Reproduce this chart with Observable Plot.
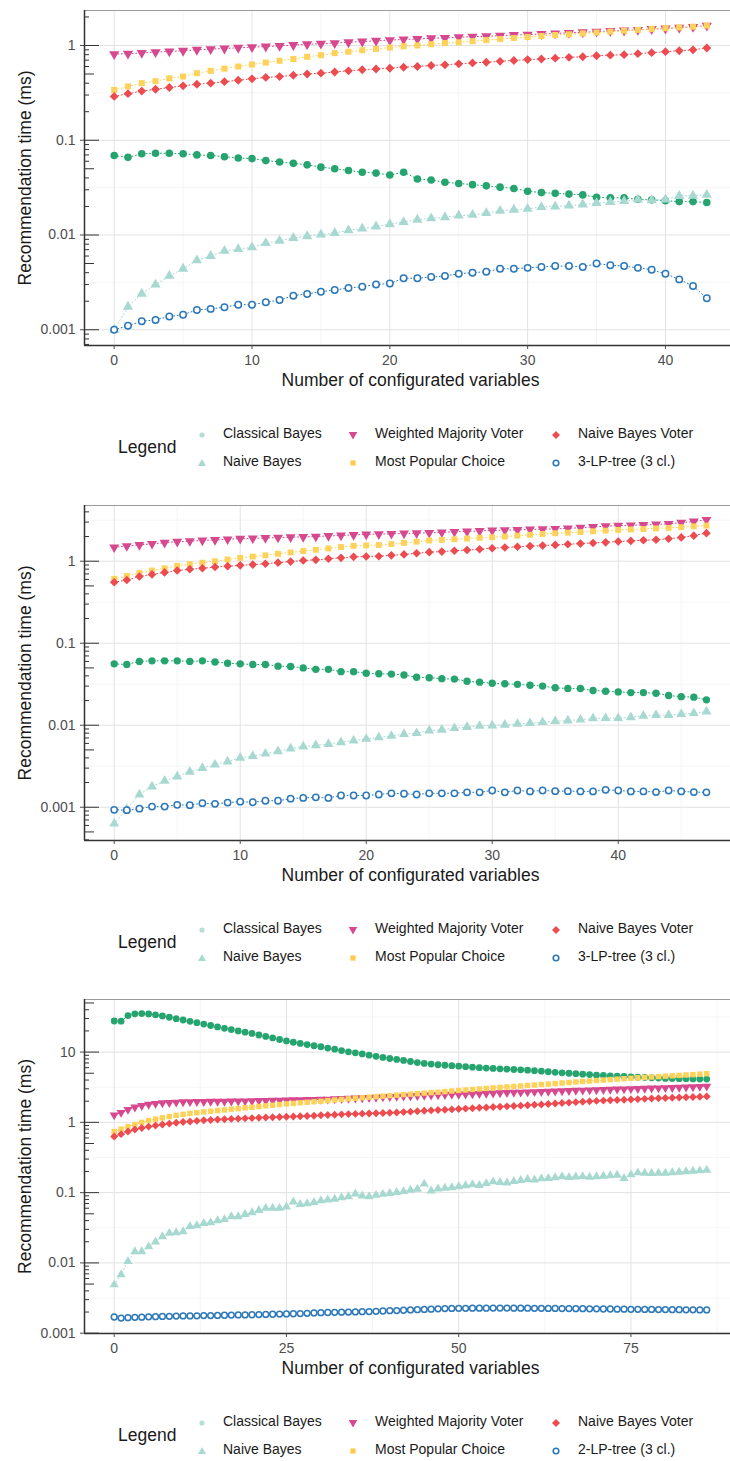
<!DOCTYPE html>
<html>
<head>
<meta charset="utf-8">
<script src="https://cdn.jsdelivr.net/npm/d3@7"></script>
<script src="https://cdn.jsdelivr.net/npm/@observablehq/plot@0.6"></script>
<style>
  body { margin: 0; background: #fff; }
  #root { position: relative; width: 730px; height: 1461px; overflow: hidden; background: #fff;
          font-family: "Liberation Sans", Arial, Helvetica, sans-serif; }
  .panel { position: absolute; left: 0; }
  .lg-title { position: absolute; font-size: 17.5px; color: #1a1a1a; line-height: 1; }
  .lg-text { position: absolute; font-size: 14px; color: #1a1a1a; line-height: 1; white-space: nowrap; }
  .lg-sym { position: absolute; width: 12px; height: 12px; }
</style>
</head>
<body>
<div id="root"></div>
<script>
// ---------------- data ----------------
const seriesNames = ["Classical Bayes", "Naive Bayes", "Weighted Majority Voter", "Most Popular Choice", "Naive Bayes Voter", "LP-tree"];
const legendLabels1 = ["Classical Bayes", "Naive Bayes", "Weighted Majority Voter", "Most Popular Choice", "Naive Bayes Voter", "3-LP-tree (3 cl.)"];
const legendLabels2 = ["Classical Bayes", "Naive Bayes", "Weighted Majority Voter", "Most Popular Choice", "Naive Bayes Voter", "3-LP-tree (3 cl.)"];
const legendLabels3 = ["Classical Bayes", "Naive Bayes", "Weighted Majority Voter", "Most Popular Choice", "Naive Bayes Voter", "2-LP-tree (3 cl.)"];
const xTitle = "Number of configurated variables";
const yTitle = "Recommendation time (ms)";

// Panel 1: x = 0..43
const cb1 = [0.069,0.066,0.072,0.073,0.073,0.072,0.070,0.069,0.067,0.065,0.064,0.061,0.059,0.057,0.055,0.052,0.050,0.048,0.046,0.045,0.043,0.046,0.039,0.038,0.036,0.035,0.034,0.033,0.032,0.031,0.029,0.028,0.0275,0.027,0.0265,0.025,0.0247,0.0247,0.0238,0.0235,0.023,0.0225,0.0225,0.022];
const nb1 = [0.001,0.00175,0.0024,0.003,0.0037,0.0044,0.0054,0.006,0.0068,0.0071,0.0074,0.0082,0.0087,0.0093,0.0097,0.0101,0.0105,0.0112,0.0117,0.0123,0.013,0.0137,0.0145,0.015,0.0154,0.016,0.0163,0.017,0.018,0.0185,0.0189,0.0197,0.020,0.0204,0.021,0.0217,0.0223,0.0228,0.0236,0.0233,0.0237,0.0258,0.026,0.0265];
const wmv1 = [0.81,0.82,0.835,0.85,0.865,0.88,0.90,0.915,0.93,0.945,0.96,0.975,0.99,1.01,1.03,1.045,1.06,1.08,1.10,1.12,1.14,1.16,1.17,1.19,1.20,1.22,1.24,1.25,1.27,1.29,1.30,1.32,1.34,1.36,1.38,1.40,1.42,1.44,1.46,1.49,1.51,1.54,1.57,1.62];
const mpc1 = [0.34,0.37,0.40,0.42,0.45,0.47,0.51,0.54,0.57,0.60,0.63,0.66,0.69,0.72,0.76,0.79,0.83,0.86,0.89,0.92,0.95,0.98,1.0,1.03,1.06,1.08,1.11,1.14,1.17,1.2,1.23,1.26,1.29,1.31,1.34,1.37,1.40,1.43,1.46,1.49,1.52,1.55,1.58,1.62];
const nbv1 = [0.29,0.31,0.33,0.345,0.36,0.375,0.39,0.40,0.415,0.43,0.445,0.46,0.47,0.485,0.50,0.51,0.525,0.54,0.555,0.565,0.575,0.59,0.60,0.615,0.625,0.64,0.655,0.665,0.68,0.695,0.71,0.72,0.735,0.75,0.76,0.78,0.79,0.80,0.82,0.84,0.86,0.88,0.90,0.94];
const lp1 = [0.001,0.0011,0.00123,0.00127,0.00138,0.00144,0.00162,0.00166,0.00173,0.00184,0.00184,0.00195,0.00206,0.00229,0.00239,0.00252,0.00263,0.00276,0.00285,0.003,0.00308,0.0035,0.0035,0.0036,0.0037,0.0039,0.004,0.0041,0.0044,0.0044,0.0045,0.0046,0.0047,0.0047,0.0046,0.0050,0.0048,0.0047,0.0045,0.0043,0.0039,0.0034,0.0029,0.00215];

// Panel 2: x = 0..47
const cb2 = [0.056,0.055,0.060,0.061,0.061,0.061,0.060,0.061,0.059,0.057,0.056,0.055,0.055,0.0525,0.052,0.050,0.048,0.048,0.045,0.045,0.043,0.0425,0.042,0.041,0.0385,0.038,0.037,0.0365,0.0344,0.0335,0.0325,0.032,0.0315,0.0307,0.030,0.0286,0.028,0.028,0.0265,0.026,0.0255,0.025,0.025,0.0245,0.023,0.0223,0.022,0.0204];
const nb2 = [0.00063,0.00095,0.00143,0.00179,0.0021,0.00237,0.0027,0.0030,0.0033,0.0036,0.0040,0.0042,0.0045,0.0048,0.0052,0.0055,0.0057,0.0059,0.0062,0.0065,0.0068,0.0071,0.0074,0.0078,0.008,0.0086,0.0088,0.0092,0.0095,0.0098,0.0099,0.0101,0.0104,0.0106,0.0109,0.0112,0.0114,0.0117,0.0121,0.0122,0.0122,0.0125,0.013,0.0133,0.0133,0.0137,0.014,0.0147];
const wmv2 = [1.48,1.53,1.58,1.63,1.68,1.73,1.76,1.79,1.82,1.85,1.88,1.90,1.92,1.94,1.96,1.98,2.0,2.03,2.06,2.09,2.12,2.14,2.16,2.18,2.2,2.22,2.25,2.28,2.31,2.34,2.37,2.39,2.41,2.44,2.46,2.48,2.52,2.56,2.62,2.67,2.72,2.74,2.77,2.81,2.86,2.95,3.05,3.2];
const mpc2 = [0.61,0.66,0.72,0.77,0.82,0.88,0.92,0.96,1.0,1.05,1.1,1.14,1.18,1.23,1.28,1.33,1.38,1.43,1.49,1.54,1.56,1.58,1.62,1.67,1.73,1.79,1.82,1.85,1.89,1.93,1.96,2.0,2.05,2.1,2.15,2.19,2.23,2.27,2.32,2.36,2.41,2.44,2.47,2.51,2.55,2.6,2.66,2.72];
const nbv2 = [0.555,0.59,0.65,0.69,0.73,0.77,0.80,0.82,0.85,0.87,0.89,0.91,0.93,0.96,0.99,1.02,1.04,1.07,1.10,1.13,1.14,1.15,1.18,1.21,1.25,1.29,1.31,1.34,1.37,1.40,1.44,1.47,1.50,1.53,1.55,1.58,1.61,1.64,1.67,1.70,1.74,1.77,1.80,1.83,1.88,1.95,2.05,2.2];
const lp2 = [0.00093,0.00092,0.00096,0.00102,0.00102,0.00107,0.00106,0.00112,0.0011,0.00114,0.00117,0.00115,0.0012,0.0012,0.00127,0.0013,0.00132,0.0013,0.00139,0.00139,0.00139,0.00143,0.00148,0.00146,0.00143,0.00148,0.00148,0.00148,0.00152,0.00152,0.0016,0.00152,0.0016,0.00156,0.0016,0.00157,0.00157,0.00156,0.00156,0.00163,0.0016,0.00156,0.00156,0.00153,0.0016,0.00156,0.00153,0.00152];

// Panel 3: x = 0..86
const cb3 = [27.7,27.5,33.0,35.0,35.3,34.8,33.8,32.6,31.3,29.9,28.6,27.4,26.2,25.0,23.9,22.8,21.8,20.9,20.0,19.2,18.4,17.5,16.7,15.9,15.1,14.4,13.8,13.3,12.8,12.3,11.9,11.4,11.0,10.5,10.1,9.75,9.4,9.05,8.7,8.4,8.1,7.85,7.6,7.35,7.1,6.9,6.75,6.6,6.5,6.4,6.3,6.2,6.1,6.0,5.92,5.85,5.78,5.72,5.65,5.6,5.53,5.44,5.35,5.25,5.16,5.07,5.0,4.93,4.85,4.78,4.7,4.65,4.6,4.55,4.5,4.44,4.4,4.36,4.31,4.27,4.22,4.2,4.18,4.16,4.15,4.14,4.13];
const nb3 = [0.0049,0.0068,0.0105,0.0145,0.0145,0.017,0.020,0.0237,0.0265,0.027,0.028,0.033,0.034,0.0367,0.0375,0.040,0.0415,0.0456,0.0456,0.049,0.052,0.056,0.060,0.060,0.060,0.063,0.074,0.068,0.070,0.073,0.077,0.079,0.081,0.085,0.088,0.096,0.09,0.088,0.092,0.095,0.098,0.101,0.104,0.109,0.112,0.133,0.106,0.113,0.116,0.118,0.122,0.126,0.13,0.127,0.135,0.143,0.14,0.138,0.145,0.15,0.155,0.152,0.158,0.16,0.164,0.169,0.165,0.168,0.17,0.167,0.169,0.172,0.175,0.178,0.16,0.18,0.192,0.19,0.188,0.19,0.19,0.193,0.196,0.2,0.203,0.205,0.21];
const wmv3 = [1.27,1.38,1.52,1.64,1.73,1.8,1.85,1.89,1.91,1.93,1.95,1.96,1.97,1.97,1.98,1.98,1.99,2.0,2.0,2.01,2.02,2.03,2.04,2.05,2.06,2.07,2.08,2.09,2.1,2.11,2.12,2.13,2.15,2.17,2.19,2.21,2.23,2.25,2.27,2.29,2.31,2.33,2.35,2.37,2.39,2.41,2.43,2.45,2.47,2.49,2.5,2.52,2.54,2.56,2.58,2.6,2.62,2.64,2.66,2.68,2.7,2.72,2.74,2.76,2.78,2.8,2.82,2.84,2.86,2.88,2.9,2.92,2.94,2.96,2.98,3.0,3.02,3.04,3.06,3.08,3.1,3.12,3.14,3.17,3.2,3.23,3.26];
const mpc3 = [0.74,0.80,0.87,0.93,1.0,1.06,1.11,1.16,1.21,1.26,1.3,1.34,1.37,1.41,1.44,1.47,1.5,1.54,1.57,1.61,1.64,1.68,1.72,1.75,1.79,1.83,1.86,1.9,1.93,1.97,2.0,2.04,2.08,2.12,2.16,2.2,2.24,2.28,2.32,2.36,2.4,2.44,2.48,2.52,2.56,2.61,2.65,2.69,2.74,2.79,2.84,2.89,2.94,2.99,3.04,3.09,3.14,3.19,3.24,3.29,3.35,3.4,3.46,3.51,3.57,3.63,3.69,3.75,3.81,3.87,3.94,4.0,4.06,4.12,4.18,4.24,4.3,4.36,4.42,4.48,4.54,4.6,4.66,4.72,4.78,4.85,4.92];
const nbv3 = [0.63,0.68,0.74,0.79,0.83,0.87,0.9,0.93,0.96,0.99,1.01,1.03,1.05,1.07,1.08,1.1,1.11,1.12,1.13,1.14,1.15,1.16,1.17,1.18,1.19,1.2,1.21,1.22,1.23,1.24,1.26,1.27,1.28,1.3,1.31,1.32,1.33,1.34,1.35,1.36,1.37,1.38,1.4,1.42,1.44,1.46,1.48,1.5,1.51,1.53,1.55,1.57,1.59,1.61,1.63,1.65,1.67,1.69,1.71,1.73,1.75,1.78,1.8,1.83,1.86,1.89,1.91,1.94,1.97,1.99,2.02,2.04,2.06,2.08,2.1,2.12,2.14,2.16,2.18,2.2,2.22,2.24,2.26,2.28,2.3,2.32,2.34];
const lp3 = [0.00170,0.00164,0.00166,0.00168,0.00169,0.00171,0.00172,0.00173,0.00174,0.00175,0.00176,0.00176,0.00177,0.00178,0.00178,0.00179,0.00180,0.00181,0.00182,0.00182,0.00183,0.00184,0.00185,0.00186,0.00187,0.00188,0.00189,0.0019,0.00192,0.00194,0.00196,0.00197,0.00198,0.00199,0.002,0.00201,0.00202,0.00203,0.00205,0.00207,0.00209,0.0021,0.00212,0.00214,0.00216,0.00218,0.0022,0.00222,0.00224,0.00225,0.00226,0.00226,0.00227,0.00227,0.00227,0.00228,0.00228,0.00228,0.00227,0.00227,0.00227,0.00226,0.00226,0.00225,0.00225,0.00224,0.00224,0.00223,0.00223,0.00222,0.00222,0.00221,0.00221,0.0022,0.0022,0.00219,0.00219,0.00218,0.00218,0.00217,0.00217,0.00216,0.00216,0.00215,0.00215,0.00214,0.00214];

// ticks
const xMajor1 = [0, 10, 20, 30, 40], xMinor1 = [5, 15, 25, 35];
const xMajor2 = [0, 10, 20, 30, 40], xMinor2 = [5, 15, 25, 35, 45];
const xMajor3 = [0, 25, 50, 75], xMinor3 = [12.5, 37.5, 62.5, 87.5];
const yMajor1 = [0.001, 0.01, 0.1, 1];
const yMajor2 = [0.001, 0.01, 0.1, 1];
const yMajor3 = [0.001, 0.01, 0.1, 1, 10];

// ---------------- styling ----------------
const colors = ["#26a470", "#a7d9d0", "#d6498f", "#fcd25a", "#ec4b50", "#2c78b9"];
const invTriangle = {
  draw(ctx, size) {
    const y = Math.sqrt(size / (Math.sqrt(3) * 3));
    ctx.moveTo(0, 2 * y);
    ctx.lineTo(-Math.sqrt(3) * y, -y);
    ctx.lineTo(Math.sqrt(3) * y, -y);
    ctx.closePath();
  }
};
const symbols = ["circle", "triangle", invTriangle, "square", "diamond2", "circle"];

const W = 730, ML = 84, MT = 10, MB = 55;
const frameW = W - ML;

function makeRows(arrs) {
  const rows = [];
  arrs.forEach((arr, s) => arr.forEach((v, i) => rows.push({x: i, y: v, s})));
  return rows;
}

function logTickValues(dom) {
  const out = {long: [], mid: [], short: []};
  const lo = Math.floor(Math.log10(dom[0])), hi = Math.ceil(Math.log10(dom[1]));
  for (let e = lo; e <= hi; e++) {
    for (let k = 1; k <= 9; k++) {
      const v = k * Math.pow(10, e);
      if (v < dom[0] || v > dom[1]) continue;
      (k === 1 ? out.long : k === 5 ? out.mid : out.short).push(v);
    }
  }
  return out;
}
function halfDecades(dom) {
  const out = [];
  const lo = Math.floor(Math.log10(dom[0])), hi = Math.ceil(Math.log10(dom[1]));
  for (let e = lo; e <= hi; e++) {
    const v = Math.pow(10, e + 0.5);
    if (v > dom[0] && v < dom[1]) out.push(v);
  }
  return out;
}

function panel({arrs, xDomain, yDomain, xMajor, xMinor, yMajor, height, r}) {
  const rows = makeRows(arrs);
  const lt = logTickValues(yDomain);
  const marks = [
    Plot.ruleX(xMinor, {stroke: "#f0f0f0", strokeWidth: 0.7}),
    Plot.ruleY(halfDecades(yDomain), {stroke: "#f0f0f0", strokeWidth: 0.7}),
    Plot.ruleX(xMajor, {stroke: "#e2e2e2", strokeWidth: 1}),
    Plot.ruleY(yMajor, {stroke: "#e2e2e2", strokeWidth: 1}),
    Plot.frame({stroke: "#9a9a9a", strokeWidth: 1})
  ];
  arrs.forEach((arr, s) => {
    const d = rows.filter(o => o.s === s);
    marks.push(Plot.line(d, {x: "x", y: "y", stroke: colors[s], strokeWidth: 1, strokeDasharray: "1,2.6"}));
  });
  arrs.forEach((arr, s) => {
    const d = rows.filter(o => o.s === s);
    if (s === 5) {
      marks.push(Plot.dot(d, {x: "x", y: "y", r: r * 0.85, fill: "white", stroke: colors[s], strokeWidth: 1.5}));
    } else {
      const rr = s === 3 ? r * 0.9 : s === 4 ? r * 1.05 : r;
      marks.push(Plot.dot(d, {x: "x", y: "y", r: rr, symbol: symbols[s], fill: colors[s], stroke: "none"}));
    }
  });
  marks.push(
    Plot.ruleY(lt.long, {stroke: "#333", strokeWidth: 1, insetRight: frameW - 15}),
    Plot.ruleY(lt.mid, {stroke: "#333", strokeWidth: 1, insetRight: frameW - 10}),
    Plot.ruleY(lt.short, {stroke: "#333", strokeWidth: 1, insetRight: frameW - 5}),
    Plot.ruleX([xDomain[0]], {stroke: "#333", strokeWidth: 1.5}),
    Plot.ruleY([yDomain[0]], {stroke: "#333", strokeWidth: 1.5}),
    Plot.axisX({ticks: xMajor, tickSize: 4, tickPadding: 6, fontSize: 14, color: "#4d4d4d", label: null, tickFormat: d => String(d)}),
    Plot.axisY({ticks: yMajor, tickSize: 4, tickPadding: 5, fontSize: 14, color: "#4d4d4d", label: null, tickFormat: d => String(d)}),
    Plot.text([xTitle], {frameAnchor: "bottom", textAnchor: "middle", lineAnchor: "middle", dx: 3, dy: 35, fontSize: 17.5, fill: "#1a1a1a"}),
    Plot.text([yTitle], {frameAnchor: "left", textAnchor: "middle", lineAnchor: "middle", rotate: -90, dx: -59, fontSize: 17.5, fill: "#1a1a1a"})
  );
  return Plot.plot({
    width: W, height, marginLeft: ML, marginRight: 0, marginTop: MT, marginBottom: MB,
    x: {domain: xDomain},
    y: {type: "log", domain: yDomain},
    style: {fontFamily: "'Liberation Sans', Arial, Helvetica, sans-serif", background: "white", overflow: "visible"},
    marks
  });
}

function legendSym(s) {
  const c = colors[s];
  let inner = "";
  if (s === 0) inner = `<circle cx="6" cy="6" r="2.6" fill="#b6ddd6"/>`;
  if (s === 1) inner = `<path d="M6,2 L10,9 L2,9 Z" fill="${c}"/>`;
  if (s === 2) inner = `<path d="M6,10.5 L1.7,3 L10.3,3 Z" fill="${c}"/>`;
  if (s === 3) inner = `<rect x="3.4" y="3.4" width="5.2" height="5.2" fill="#fdca4c"/>`;
  if (s === 4) inner = `<path d="M6,2 L10,6 L6,10 L2,6 Z" fill="${c}"/>`;
  if (s === 5) inner = `<circle cx="6" cy="6" r="2.8" fill="white" stroke="${c}" stroke-width="1.6"/>`;
  return `<svg width="12" height="12" viewBox="0 0 12 12">${inner}</svg>`;
}

function legend(root, labels, row1) {
  const colSym = [202, 353, 556];
  const colTxt = [223, 375, 578];
  const t = document.createElement("div");
  t.className = "lg-title";
  t.textContent = "Legend";
  t.style.left = "118px";
  t.style.top = (row1 + 15 - 9) + "px";
  root.appendChild(t);
  labels.forEach((lab, s) => {
    const col = Math.floor(s / 2), row = s % 2;
    const cy = row1 + row * 28;
    const sym = document.createElement("div");
    sym.className = "lg-sym";
    sym.style.left = (colSym[col] - 6) + "px";
    sym.style.top = (cy - 6) + "px";
    sym.innerHTML = legendSym(s);
    root.appendChild(sym);
    const tx = document.createElement("div");
    tx.className = "lg-text";
    tx.textContent = lab;
    tx.style.left = colTxt[col] + "px";
    tx.style.top = (cy - 7.5) + "px";
    root.appendChild(tx);
  });
}

const root = document.getElementById("root");
function place(svg, top) {
  const w = document.createElement("div");
  w.className = "panel";
  w.style.top = top + "px";
  w.appendChild(svg);
  root.appendChild(w);
}

place(panel({arrs: [cb1, nb1, wmv1, mpc1, nbv1, lp1], xDomain: [-2.155, 44.72], yDomain: [0.000682, 2.34],
  xMajor: xMajor1, xMinor: xMinor1, yMajor: yMajor1, height: 400, r: 3.8}), 0);
legend(root, legendLabels1, 433);

place(panel({arrs: [cb2, nb2, wmv2, mpc2, nbv2, lp2], xDomain: [-2.357, 48.91], yDomain: [0.000393, 4.78],
  xMajor: xMajor2, xMinor: xMinor2, yMajor: yMajor2, height: 400, r: 3.7}), 495);
legend(root, legendLabels2, 928);

place(panel({arrs: [cb3, nb3, wmv3, mpc3, nbv3, lp3], xDomain: [-4.31, 89.45], yDomain: [0.00099, 56],
  xMajor: xMajor3, xMinor: xMinor3, yMajor: yMajor3, height: 399, r: 3.4}), 989);
legend(root, legendLabels3, 1421);
</script>
</body>
</html>
